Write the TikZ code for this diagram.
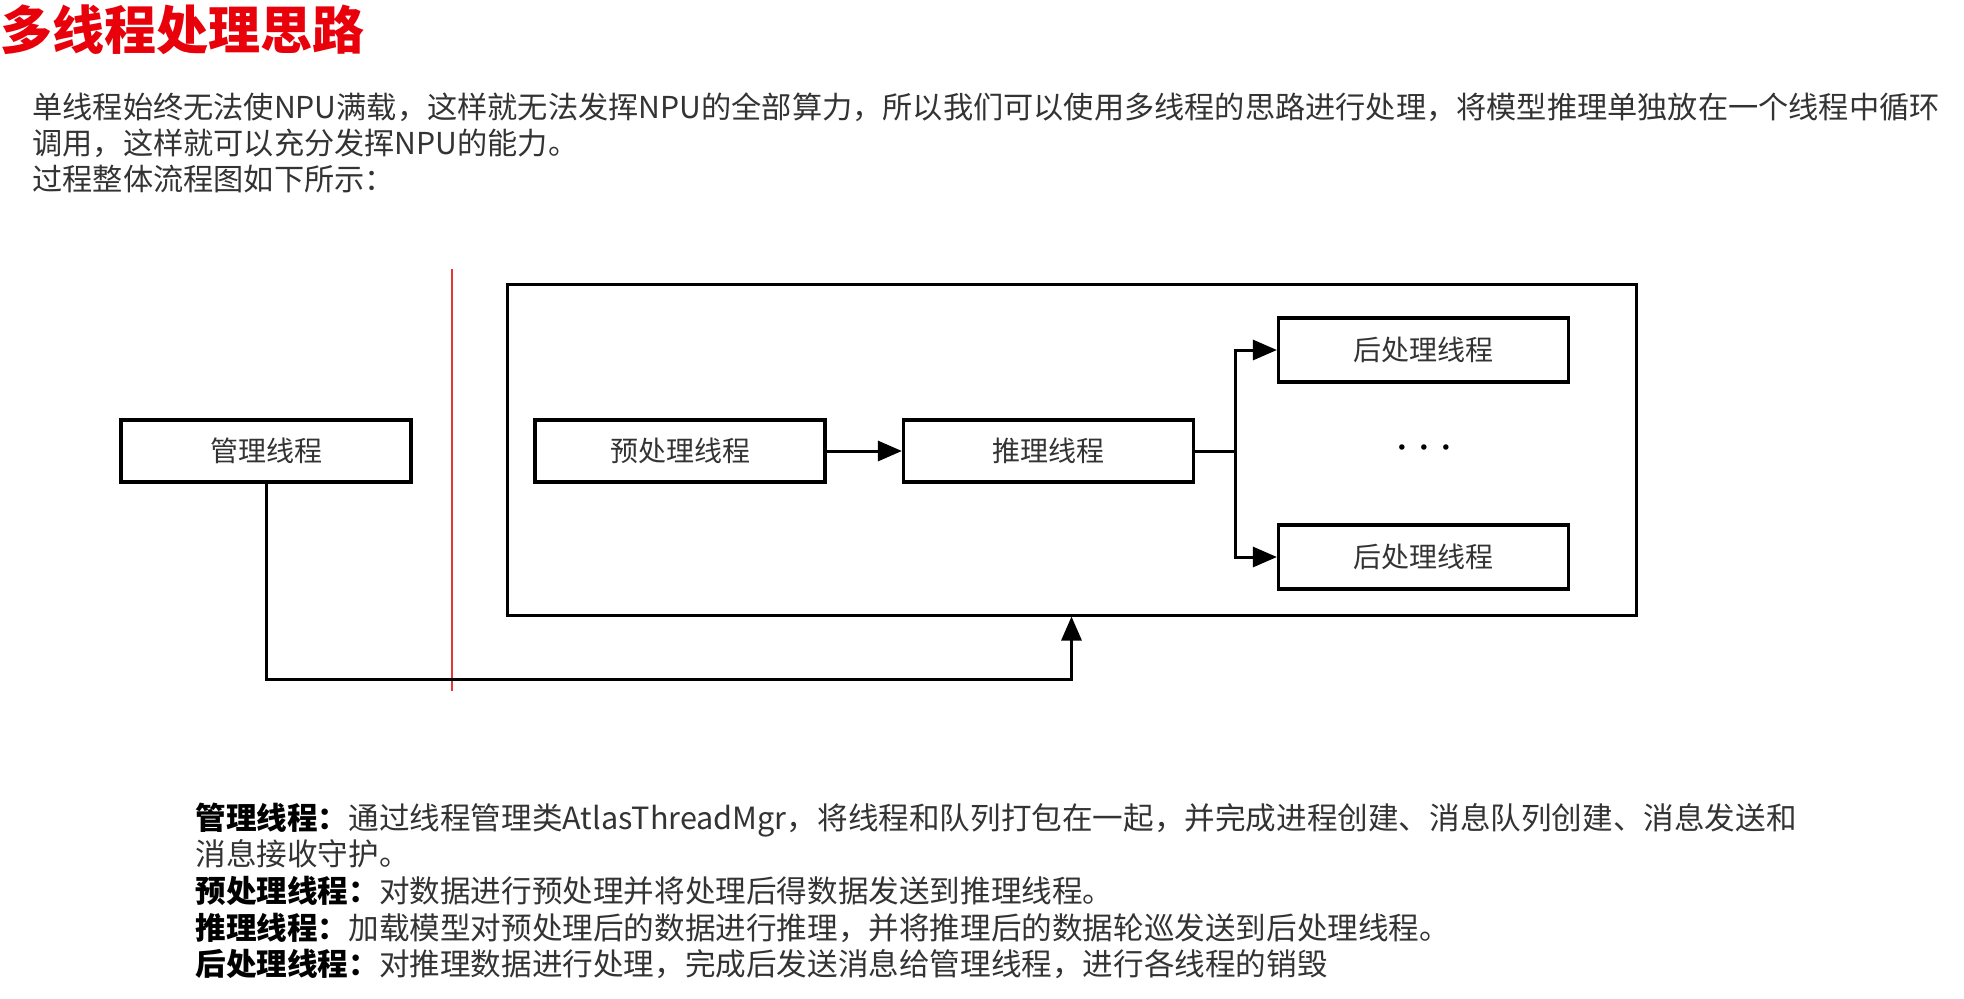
\documentclass[tikz,border=0pt]{standalone}
\usepackage{fontspec}
\setmainfont{Noto Sans CJK SC}
\usetikzlibrary{arrows.meta}
\definecolor{txt}{HTML}{333333}
\definecolor{ttl}{HTML}{E8000B}
\definecolor{vline}{HTML}{E53935}
\tikzset{
  para/.style={anchor=west, inner sep=0pt, text=txt, font=\fontsize{15.1pt}{18pt}\selectfont, text height=13.3pt, text depth=1.8pt},
  desc/.style={para, font=\fontsize{15.3pt}{18pt}\selectfont},
  box/.style={draw=black, line width=1.6pt, inner sep=0pt, minimum width=145pt, minimum height=31pt, text=txt, font=\fontsize{14pt}{16pt}\selectfont},
  frame/.style={draw=black, line width=1.5pt, inner sep=0pt, minimum width=564.5pt, minimum height=165.5pt},
  conn/.style={draw=black, line width=1.5pt},
  arr/.style={conn, -{Triangle[length=12pt, width=10pt]}},
}
\begin{document}
\begin{tikzpicture}[x=0.5pt, y=-0.5pt]
\useasboundingbox (0,0) rectangle (1964,998);
% title
\node[anchor=west, inner sep=0pt, text=ttl, font=\fontsize{26pt}{30pt}\selectfont\bfseries] (title) at (0,30) {多线程处理思路};
% paragraph
\node[para] (p1) at (32,107) {单线程始终无法使NPU满载，这样就无法发挥NPU的全部算力，所以我们可以使用多线程的思路进行处理，将模型推理单独放在一个线程中循环};
\node[para] (p2) at (32,143) {调用，这样就可以充分发挥NPU的能力。};
\node[para] (p3) at (32,179) {过程整体流程图如下所示：};
% diagram
\node[frame] (outer) at (1071.5,449.5) {};
\draw[vline, line width=0.9pt] (452,269) coordinate (vtop) -- (452,691) coordinate (vbot);
\node[box] (mgr) at (266,451) {管理线程};
\node[box] (pre) at (680,451) {预处理线程};
\node[box] (inf) at (1048.5,451) {推理线程};
\node[box, minimum height=32pt] (post1) at (1423.5,350) {后处理线程};
\node[box, minimum height=32pt] (post2) at (1423.5,557) {后处理线程};
\node[inner sep=0pt, font=\fontsize{6.5pt}{6.5pt}\selectfont] (dots) at (1424,448) {$\bullet\hspace{5.5pt}\bullet\hspace{5.5pt}\bullet$};
\draw[arr] (pre.east) -- (inf.west);
\coordinate (br) at (1235,451);
\draw[conn] (inf.east) -- (br);
\draw[arr] (br) |- (post1.west);
\draw[arr] (br) |- (post2.west);
\coordinate (loop) at (outer.south |- 0,679);
\draw[arr] (mgr.south) |- (loop) -- (outer.south);
% description
\node[desc] (d1) at (195,818) {{\bfseries\color{black}管理线程：}通过线程管理类AtlasThreadMgr，将线程和队列打包在一起，并完成进程创建、消息队列创建、消息发送和};
\node[desc] (d2) at (195,854) {消息接收守护。};
\node[desc] (d3) at (195,891) {{\bfseries\color{black}预处理线程：}对数据进行预处理并将处理后得数据发送到推理线程。};
\node[desc] (d4) at (195,928) {{\bfseries\color{black}推理线程：}加载模型对预处理后的数据进行推理，并将推理后的数据轮巡发送到后处理线程。};
\node[desc] (d5) at (195,964) {{\bfseries\color{black}后处理线程：}对推理数据进行处理，完成后发送消息给管理线程，进行各线程的销毁};
\end{tikzpicture}
\end{document}
